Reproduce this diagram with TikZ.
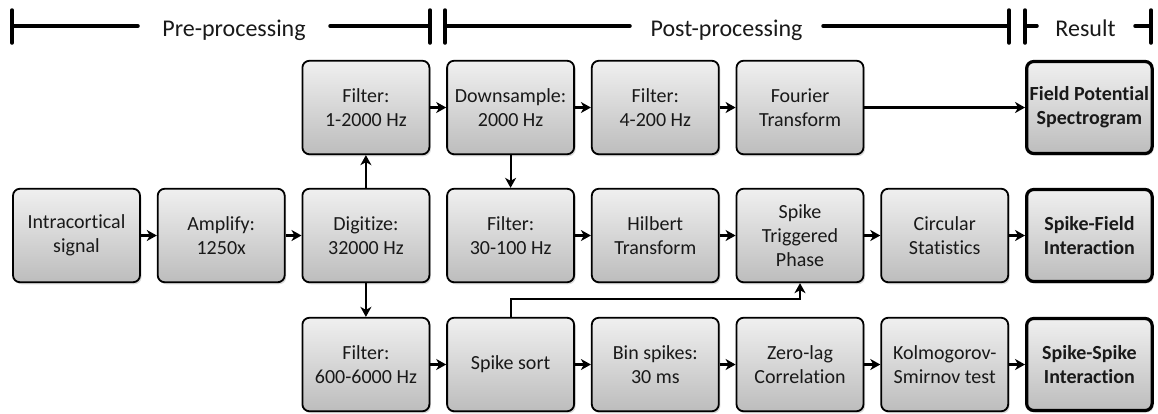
\documentclass[tikz,border=0pt]{standalone}
\usepackage{fontspec}
\setmainfont{Carlito}[Ligatures={NoCommon,NoRare}]
\usetikzlibrary{arrows.meta,shadows}
\begin{document}
\begin{tikzpicture}[x=1pt,y=-1pt,
  box/.style={draw=black, line width=1.8pt, rounded corners=7pt,
    minimum width=127pt, minimum height=93.5pt, inner sep=2pt,
    top color=white!94!black, bottom color=white!74!black,
    align=center, font=\fontsize{20}{24}\selectfont, text=black!90,
    drop shadow={shadow xshift=1.5pt, shadow yshift=-2pt, opacity=0.3}},
  resbox/.style={box, line width=3.2pt, minimum width=125.5pt, minimum height=92pt,
    font=\fontsize{20}{24}\selectfont\bfseries},
  arr/.style={-{Stealth[length=10pt,width=11pt,inset=3pt]}, line width=2.2pt},
  bar/.style={line width=3.5pt, line cap=round},
  hdr/.style={font=\fontsize{24}{28}\selectfont, anchor=base, inner sep=0pt, text=black!90}]
\useasboundingbox (0,0) rectangle (1158,413);

% header
\node[hdr] (pre) at (234,36) {Pre-processing};
\node[hdr] (post) at (726.5,36) {Post-processing};
\node[hdr] (result) at (1085.5,36) {Result};
\coordinate (h1) at (12,26);
\coordinate (h2) at (138,26);
\coordinate (h3) at (330,26);
\coordinate (h4) at (430,26);
\coordinate (h5) at (445,26);
\coordinate (h6) at (630,26);
\coordinate (h7) at (823,26);
\coordinate (h8) at (1009,26);
\coordinate (h9) at (1025,26);
\coordinate (h10) at (1037,26);
\coordinate (h11) at (1135,26);
\coordinate (h12) at (1151,26);
\draw[bar] (h1) -- (h2);
\draw[bar] (h3) -- (h4);
\draw[bar] (h5) -- (h6);
\draw[bar] (h7) -- (h8);
\draw[bar] (h9) -- (h10);
\draw[bar] (h11) -- (h12);
\foreach \c in {h1,h4,h5,h8,h9,h12}{
  \draw[bar] ([yshift=16pt]\c) -- ([yshift=-17pt]\c);
}

% top row
\node[box] (f1) at (365.9,107.5) {Filter:\\1-2000 Hz};
\node[box] (ds) at (510.6,107.5) {Downsample:\\2000 Hz};
\node[box] (f4) at (655.3,107.5) {Filter:\\4-200 Hz};
\node[box] (ft) at (800,107.5) {Fourier\\Transform};
\node[resbox] (fps) at (1089.4,107.5) {Field Potential\\Spectrogram};

% middle row
\node[box] (ic) at (76.5,235.5) {Intracortical\\signal};
\node[box] (amp) at (221.2,235.5) {Amplify:\\1250x};
\node[box] (dig) at (365.9,235.5) {Digitize:\\32000 Hz};
\node[box] (f30) at (510.6,235.5) {Filter:\\30-100 Hz};
\node[box] (hil) at (655.3,235.5) {Hilbert\\Transform};
\node[box] (stp) at (800,235.5) {Spike\\Triggered\\Phase};
\node[box] (cs) at (944.7,235.5) {Circular\\Statistics};
\node[resbox] (sfi) at (1089.4,235.5) {Spike-Field\\Interaction};

% bottom row
\node[box] (f600) at (365.9,364.5) {Filter:\\600-6000 Hz};
\node[box] (ss) at (510.6,364.5) {Spike sort};
\node[box] (bin) at (655.3,364.5) {Bin spikes:\\30 ms};
\node[box] (zl) at (800,364.5) {Zero-lag\\Correlation};
\node[box] (ks) at (944.7,364.5) {Kolmogorov-\\Smirnov test};
\node[resbox] (ssi) at (1089.4,364.5) {Spike-Spike\\Interaction};

% connectors
\draw[arr] (ic) -- (amp);
\draw[arr] (amp) -- (dig);
\draw[arr] (dig) -- (f1);
\draw[arr] (dig) -- (f600);
\draw[arr] (f1) -- (ds);
\draw[arr] (ds) -- (f4);
\draw[arr] (f4) -- (ft);
\draw[arr] (ft) -- (fps);
\draw[arr] (ds) -- (f30);
\draw[arr] (f30) -- (hil);
\draw[arr] (hil) -- (stp);
\draw[arr] (stp) -- (cs);
\draw[arr] (cs) -- (sfi);
\draw[arr] (f600) -- (ss);
\draw[arr] (ss) -- (bin);
\draw[arr] (bin) -- (zl);
\draw[arr] (zl) -- (ks);
\draw[arr] (ks) -- (ssi);
\coordinate (jn) at (510.6,299);
\draw[arr, rounded corners=0pt] (ss.north) -- (jn) -| (stp.south);
\end{tikzpicture}
\end{document}
